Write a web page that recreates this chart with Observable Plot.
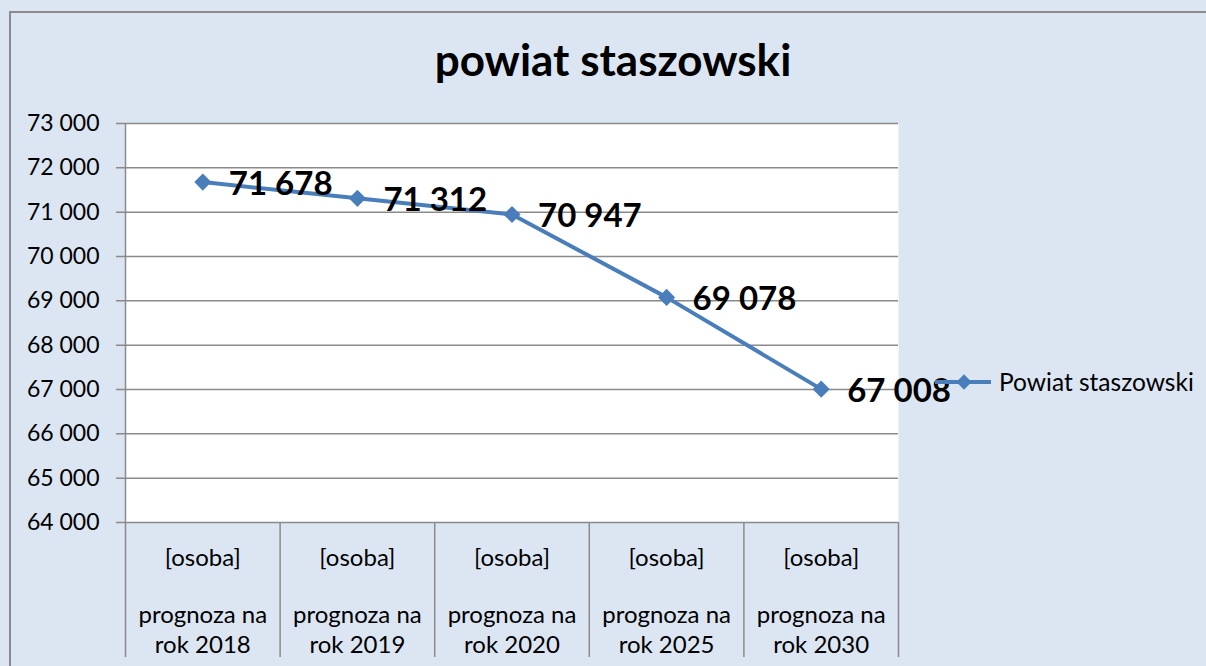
<!DOCTYPE html>
<html>
<head>
<meta charset="utf-8">
<script src="https://cdn.jsdelivr.net/npm/d3@7"></script>
<script src="https://cdn.jsdelivr.net/npm/@observablehq/plot@0.6"></script>
<style>
  html, body { margin: 0; padding: 0; background: #dce6f2; width: 1206px; height: 666px; overflow: hidden; }
  #frame { position: absolute; left: 9px; top: 11px; width: 1300px; height: 800px; border-top: 2px solid #8c8c8c; border-left: 2px solid #8c8c8c; }
  #title { position: absolute; left: 0; width: 1226px; top: 31px; text-align: center; font-family: Lato, sans-serif; font-weight: bold; font-size: 44px; line-height: 56px; color: #000; }
  #chart { position: absolute; left: 0; top: 0; }
  #legend { position: absolute; left: 933px; top: 366px; font-family: Lato, sans-serif; font-size: 24.5px; line-height: 32px; color: #000; display: flex; align-items: center; }
  #legend svg { margin-right: 4px; }
</style>
</head>
<body>
<div id="frame"></div>
<div id="title">powiat staszowski</div>
<div id="chart"></div>
<div id="legend"></div>
<script>
const categories = ["prognoza na\nrok 2018", "prognoza na\nrok 2019", "prognoza na\nrok 2020", "prognoza na\nrok 2025", "prognoza na\nrok 2030"];
const unitLabel = "[osoba]";
const values = [71678, 71312, 70947, 69078, 67008];
const seriesName = "Powiat staszowski";
const yTicks = [64000, 65000, 66000, 67000, 68000, 69000, 70000, 71000, 72000, 73000];

const data = values.map((v, i) => ({i, v, cat: categories[i]}));
const bandEdges = d3.range(categories.length + 1).map(k => k - 0.5);
const fmt = v => d3.format(",")(v).replace(/,/g, " ");
const blue = "#4a7ebb";
const grid = "#8a8a8a";

const chart = Plot.plot({
  width: 1206,
  height: 666,
  marginLeft: 125,
  marginRight: 308,
  marginTop: 123,
  marginBottom: 144,
  style: {background: "transparent", overflow: "visible", fontFamily: "Lato, sans-serif"},
  x: {domain: [-0.5, categories.length - 0.5], axis: null, label: null},
  y: {domain: [64000, 73000], axis: null, label: null},
  marks: [
    Plot.frame({fill: "white", stroke: null}),
    Plot.ruleY(yTicks, {stroke: grid, strokeWidth: 1.5, insetLeft: -9}),
    Plot.ruleX(bandEdges.slice(0, 1), {stroke: grid, strokeWidth: 1.5, y1: 73000, y2: 64000, insetBottom: -135}),
    Plot.ruleX(bandEdges.slice(1), {stroke: grid, strokeWidth: 1.5, y1: 64000, y2: 64000, insetBottom: -135}),
    Plot.axisY({ticks: yTicks, tickFormat: fmt, tickSize: 0, tickPadding: 26, fontSize: 23, fill: "#000", label: null}),
    Plot.axisX({ticks: d3.range(categories.length), tickFormat: () => unitLabel, tickSize: 0, tickPadding: 26, fontSize: 24, fill: "#000", label: null}),
    Plot.axisX({ticks: d3.range(categories.length), tickFormat: i => categories[i], tickSize: 0, tickPadding: 79, fontSize: 24, lineHeight: 1.25, fill: "#000", label: null}),
    Plot.line(data, {x: "i", y: "v", stroke: blue, strokeWidth: 4}),
    Plot.dot(data, {x: "i", y: "v", symbol: "diamond2", r: 7.7, fill: blue, stroke: null}),
    Plot.text(data, {x: "i", y: "v", text: d => fmt(d.v), textAnchor: "start", dx: 26, dy: 2, fontSize: 33, fontWeight: "bold", fill: "#000"})
  ]
});
document.getElementById("chart").appendChild(chart);

// legend
const leg = document.getElementById("legend");
const ls = d3.create("svg").attr("width", 62).attr("height", 28);
ls.append("line").attr("x1", 2).attr("x2", 58).attr("y1", 14).attr("y2", 14).attr("stroke", blue).attr("stroke-width", 4);
ls.append("path").attr("transform", "translate(31,14)").attr("d", d3.symbol(d3.symbolDiamond2, 150)()).attr("fill", blue);
leg.appendChild(ls.node());
const span = document.createElement("span");
span.textContent = seriesName;
leg.appendChild(span);
</script>
</body>
</html>
